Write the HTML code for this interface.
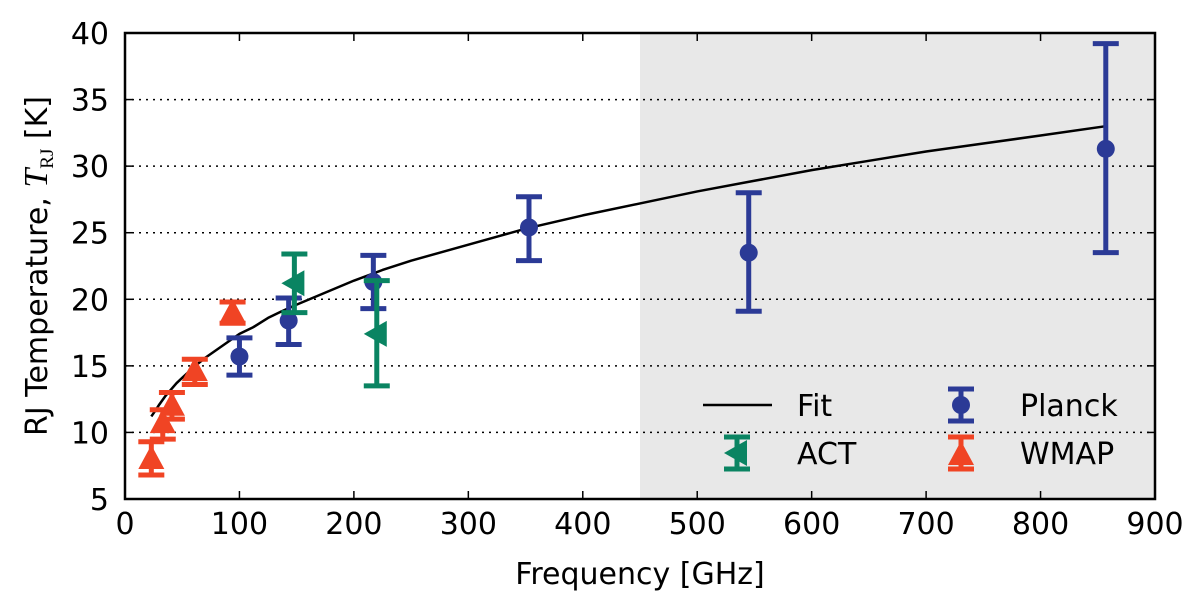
<!DOCTYPE html>
<html><head><meta charset="utf-8"><style>
body{margin:0;background:#fff}
svg text{font-family:"DejaVu Sans","Liberation Sans",sans-serif;fill:#000}
</style></head><body>
<svg id="chart" width="1200" height="605" xmlns="http://www.w3.org/2000/svg">
<g id="plot"></g>
<text x="640" y="584" font-size="30" text-anchor="middle">Frequency [GHz]</text>
<text transform="translate(47,266) rotate(-90)" font-size="30" text-anchor="middle">RJ Temperature, <tspan font-family="Liberation Serif" font-style="italic" font-size="34">T</tspan><tspan font-family="Liberation Serif" font-size="19" dy="6">RJ</tspan><tspan dy="-6"> [K]</tspan></text>
</svg>
<script>
const xTicks=[0,100,200,300,400,500,600,700,800,900];
const yTicks=[5,10,15,20,25,30,35,40];
const wmapFreq=[23,33,41,61,94];
const wmapVal=[8.0,10.7,12.0,14.6,19.0];
const wmapLo=[6.8,9.5,11.0,13.6,18.2];
const wmapHi=[9.3,11.7,13.0,15.5,19.8];
const planckFreq=[100,143,217,353,545,857];
const planckVal=[15.7,18.4,21.3,25.4,23.5,31.3];
const planckLo=[14.3,16.6,19.3,22.9,19.1,23.5];
const planckHi=[17.1,20.1,23.3,27.7,28.0,39.2];
const actFreq=[148,220];
const actVal=[21.2,17.4];
const actLo=[19.0,13.5];
const actHi=[23.4,21.4];
const fitFreq=[23,27,30,35,40,45,50,55,60,70,80,90,100,112,125,137,150,175,200,225,250,275,300,325,350,375,400,450,500,550,600,650,700,750,800,857];
const fitVal=[11.2,11.7,12.1,12.7,13.2,13.7,14.1,14.5,14.9,15.6,16.2,16.8,17.4,17.9,18.6,19.1,19.6,20.5,21.4,22.2,22.9,23.5,24.1,24.7,25.3,25.8,26.3,27.2,28.1,28.9,29.7,30.4,31.1,31.7,32.3,33.0];
const shadeStart=450;

const L=125,R=1155,T=33,B=499;
const X=v=>L+(v-0)/(900-0)*(R-L);
const Y=v=>B-(v-5)/(40-5)*(B-T);
const NS="http://www.w3.org/2000/svg";
const g=document.getElementById('plot');
function mk(tag,attrs,parent){const e=document.createElementNS(NS,tag);for(const k in attrs)e.setAttribute(k,attrs[k]);(parent||g).appendChild(e);return e;}

const sh=mk('rect',{x:X(shadeStart),y:T,width:R-X(shadeStart),height:B-T,fill:'#e8e8e8'});



yTicks.forEach(v=>{
 if(v>5&&v<40){const l=mk('line',{x1:L,x2:R,y1:Y(v),y2:Y(v),stroke:'#000','stroke-width':1.5,'stroke-dasharray':'2,5'});
 
 }
 const tk=mk('line',{x1:L,x2:L+8,y1:Y(v),y2:Y(v),stroke:'#000','stroke-width':1.5});
 
 
 const tr=mk('line',{x1:R,x2:R-8,y1:Y(v),y2:Y(v),stroke:'#000','stroke-width':1.5});
 
 
 const t=mk('text',{x:L-16,y:Y(v)+11,'font-size':30,'text-anchor':'end'});t.textContent=v;
 
 
});
xTicks.forEach(v=>{
 const tk=mk('line',{x1:X(v),x2:X(v),y1:B,y2:B-8,stroke:'#000','stroke-width':1.5});
 
 
 const tt=mk('line',{x1:X(v),x2:X(v),y1:T,y2:T+8,stroke:'#000','stroke-width':1.5});
 
 
 const t=mk('text',{x:X(v),y:B+35,'font-size':30,'text-anchor':'middle'});t.textContent=v;
 
 
});

const fit=mk('polyline',{points:fitFreq.map((f,i)=>X(f)+','+Y(fitVal[i])).join(' '),fill:'none',stroke:'#000','stroke-width':2.5,'stroke-linejoin':'round'});



function errbarPx(x,y1,y2,c,parent){
 mk('line',{x1:x,x2:x,y1:y1,y2:y2,stroke:c,'stroke-width':5},parent);
 mk('line',{x1:x-13,x2:x+13,y1:y1,y2:y1,stroke:c,'stroke-width':5},parent);
 mk('line',{x1:x-13,x2:x+13,y1:y2,y2:y2,stroke:c,'stroke-width':5},parent);
}
function errbar(x,lo,hi,c,parent){errbarPx(x,Y(lo),Y(hi),c,parent);}
const PC='#2b3a96',AC='#0a8462',WC='#f04424';
function tri(x,y){return `${x},${y-14} ${x-13},${y+10} ${x+13},${y+10}`;}
function ltri(x,y){return `${x-13},${y} ${x+10},${y-13} ${x+10},${y+13}`;}
planckFreq.forEach((f,i)=>{
 const gg=mk('g',{});
 
 
 const x=X(f);errbar(x,planckLo[i],planckHi[i],PC,gg);
 mk('circle',{cx:x,cy:Y(planckVal[i]),r:9,fill:PC},gg);
});
actFreq.forEach((f,i)=>{
 const gg=mk('g',{});
 
 
 const x=X(f);errbar(x,actLo[i],actHi[i],AC,gg);
 mk('polygon',{points:ltri(x,Y(actVal[i])),fill:AC},gg);
});
wmapFreq.forEach((f,i)=>{
 const gg=mk('g',{});
 
 
 const x=X(f);errbar(x,wmapLo[i],wmapHi[i],WC,gg);
 mk('polygon',{points:tri(x,Y(wmapVal[i])),fill:WC},gg);
});

mk('rect',{x:L,y:T,width:R-L,height:B-T,fill:'none',stroke:'#000','stroke-width':2.5});

// legend
const lg=mk('g',{});


mk('line',{x1:703,x2:772,y1:405,y2:405,stroke:'#000','stroke-width':2.5},lg);
const t1=mk('text',{x:797,y:416,'font-size':30},lg);t1.textContent='Fit';
errbarPx(737,437,469,AC,lg);
mk('polygon',{points:ltri(737,453),fill:AC},lg);
const t2=mk('text',{x:797,y:464,'font-size':30},lg);t2.textContent='ACT';
errbarPx(961,389,421,PC,lg);
mk('circle',{cx:961,cy:405,r:9,fill:PC},lg);
const t3=mk('text',{x:1020,y:416,'font-size':30},lg);t3.textContent='Planck';
errbarPx(961,437,469,WC,lg);
mk('polygon',{points:tri(961,455),fill:WC},lg);
const t4=mk('text',{x:1020,y:464,'font-size':30},lg);t4.textContent='WMAP';
</script>
</body></html>
